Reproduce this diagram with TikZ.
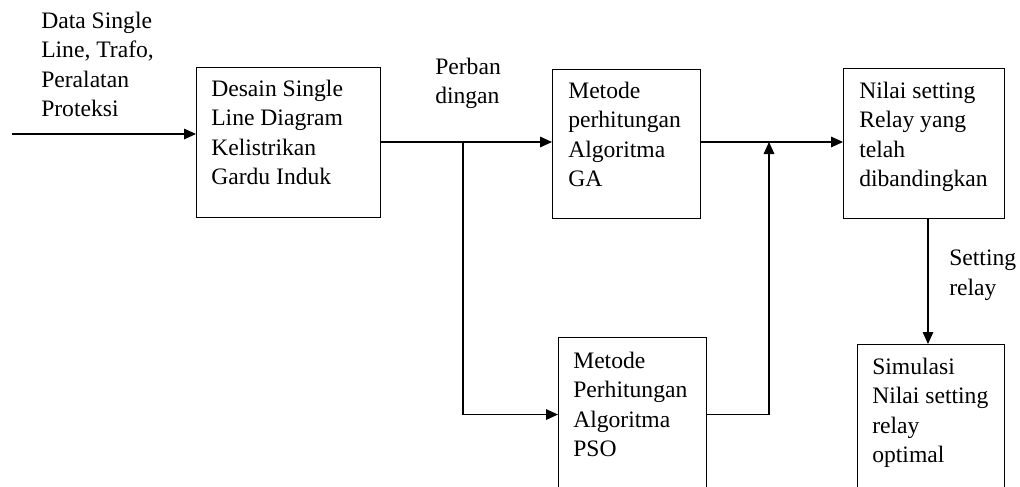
\documentclass[tikz,border=0pt]{standalone}
\usepackage{fontspec}
\setmainfont{Liberation Serif}
\usetikzlibrary{arrows.meta}
\begin{document}
\begin{tikzpicture}[x=0.75pt,y=-0.75pt,
  box/.style={draw,line width=0.8pt,inner sep=0pt,anchor=north west},
  txt/.style={inner sep=0pt,anchor=north west,align=left,font=\fontsize{17.7}{22}\selectfont},
  conn/.style={line width=0.8pt},
  arr/.style={line width=0.8pt,-{Triangle[length=9pt,width=8pt]}}]
\useasboundingbox (0,0) rectangle (1020,486);
\clip (0,0) rectangle (1020,486);
% boxes
\node[box,minimum width=184*0.75pt,minimum height=150*0.75pt] (b1) at (196,67) {};
\node[box,minimum width=148*0.75pt,minimum height=149*0.75pt] (ga) at (552,69) {};
\node[box,minimum width=161*0.75pt,minimum height=150*0.75pt] (nilai) at (843,68) {};
\node[box,minimum width=148*0.75pt,minimum height=154*0.75pt] (pso) at (558,337) {};
\node[box,minimum width=147*0.75pt,minimum height=156*0.75pt] (sim) at (857,344) {};
% texts
\node[txt] (tin) at (41,12) {Data Single\\Line, Trafo,\\Peralatan\\Proteksi};
\node[txt] (t1) at (211,80) {Desain Single\\Line Diagram\\Kelistrikan\\Gardu Induk};
\node[txt] (tga) at (568,82) {Metode\\perhitungan\\Algoritma\\GA};
\node[txt] (tnilai) at (859,82) {Nilai setting\\Relay yang\\telah\\dibandingkan};
\node[txt] (tpso) at (573,352) {Metode\\Perhitungan\\Algoritma\\PSO};
\node[txt] (tsim) at (872,358) {Simulasi\\Nilai setting\\relay\\optimal};
\node[txt] (tperb) at (435,58) {Perban\\dingan};
\node[txt] (tset) at (949,250) {Setting\\relay};
% coordinates
\coordinate (in) at (12,134);
\coordinate (split) at (463,142);
\coordinate (join) at (769,142);
% connectors
\draw[arr] (in) -- (in -| b1.west);
\draw[conn] (b1.east |- split) -- (split);
\draw[arr] (split) -- (split -| ga.west);
\draw[arr] (split) |- (pso.west);
\draw[arr] (pso.east) -| (join);
\draw[arr] (ga.east |- split) -- (split -| nilai.west);
\draw[arr] (nilai.south -| 928,0) -- (sim.north -| 928,0);
\end{tikzpicture}
\end{document}
